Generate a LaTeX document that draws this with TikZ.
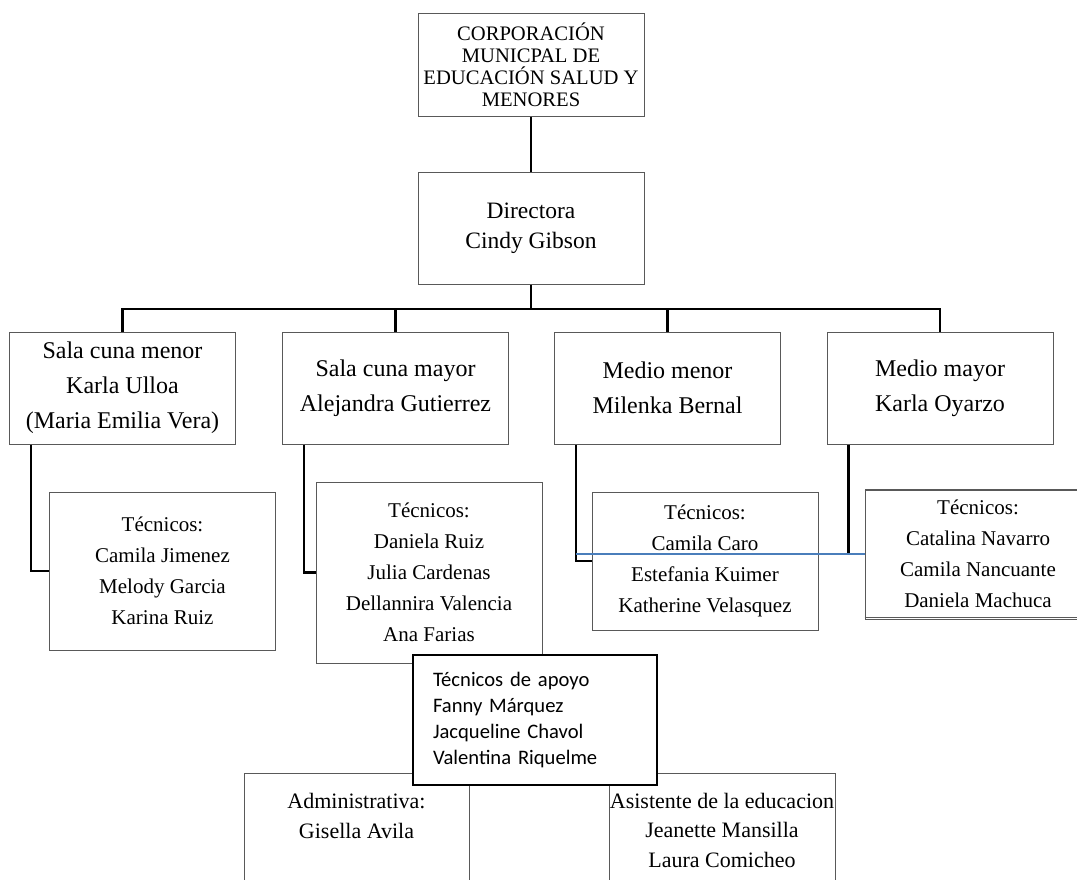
\documentclass[tikz,border=0pt]{standalone}
\usepackage{fontspec}
\setmainfont{Liberation Serif}
\newfontfamily\apoyofont{Carlito}
\usetikzlibrary{positioning}
\definecolor{lineablue}{RGB}{74,126,187}
\begin{document}
\begin{tikzpicture}[x=1pt, y=-1pt,
  box/.style={draw=black!65, line width=1pt, fill=white, inner sep=0pt, align=center, minimum width=226pt},
  level/.style={box, minimum height=112pt, font=\fontsize{24}{35}\selectfont},
  tecbox/.style={box, font=\fontsize{21}{31}\selectfont},
  bottxt/.style={inner sep=0pt, align=center, font=\fontsize{22}{29.5}\selectfont},
  link/.style={line width=2.5pt, line join=miter},
  blueline/.style={lineablue, line width=2pt}]
 \useasboundingbox (0,0) rectangle (1077,879);
 \clip (0,0) rectangle (1077,879);
 \node[box, minimum height=103pt, font=\fontsize{20.6}{22}\selectfont] (corp) at (531,64.5)
   {CORPORACIÓN\\MUNICPAL DE\\EDUCACIÓN SALUD Y\\MENORES};
 \node[box, minimum height=112pt, font=\fontsize{23.5}{30}\selectfont] (dir) at (531,228)
   {Directora\\Cindy Gibson};
 \node[level] (scm) at (122.5,388) {Sala cuna menor\\Karla Ulloa\\(Maria Emilia Vera)};
 \node[level] (scM) at (395.5,388) {Sala cuna mayor\\Alejandra Gutierrez};
 \node[level] (mme) at (667.5,388) {Medio menor\\Milenka Bernal};
 \node[level] (mma) at (940,388) {Medio mayor\\Karla Oyarzo};
 \node[tecbox, minimum height=158pt] (t1) at (162.5,571)
   {Técnicos:\\Camila Jimenez\\Melody Garcia\\Karina Ruiz};
 \node[tecbox, minimum height=181pt] (t2) at (429,572.5)
   {Técnicos:\\Daniela Ruiz\\Julia Cardenas\\Dellannira Valencia\\Ana Farias};
 \node[tecbox, minimum height=138pt] (t3) at (705,561)
   {Técnicos:\\Camila Caro\\Estefania Kuimer\\Katherine Velasquez};
 \node[tecbox, minimum height=130pt] (t4) at (978,554)
   {Técnicos:\\Catalina Navarro\\Camila Nancuante\\Daniela Machuca};
 \draw[box] ([yshift=-1.8pt]t4.north west) -- ([yshift=-1.8pt]t4.north east);
 \draw[box] ([yshift=2pt]t4.south west) -- ([yshift=2pt]t4.south east);
 \node[box, minimum width=225pt, minimum height=140pt, anchor=north] (adm) at (356.5,773) {};
 \node[box, minimum height=140pt, anchor=north] (asis) at (722,773) {};
 \node[bottxt] (admtxt) at (356.5,816) {Administrativa:\\Gisella Avila};
 \node[bottxt] (asistxt) at (722,830) {Asistente de la educacion\\Jeanette Mansilla\\Laura Comicheo};
 \coordinate (bus) at (531,309);
 \draw[link] (corp) -- (dir);
 \draw[link] (dir.south) -- (bus);
 \draw[link] (scm.north) -- (scm.north |- bus) -- (mma.north |- bus) -- (mma.north);
 \foreach \n in {scM,mme}
 {
     \draw[link] (\n.north |- bus) -- (\n.north);
 }
 \foreach \a/\b in {scm/t1,scM/t2,mme/t3,mma/t4}
 {
     \draw[link] ([xshift=22pt]\a.south west) |- (\b.west);
 }
 \draw[blueline] ([xshift=22pt]mme.south west |- t4.west) -- (t4.west);
 \node[draw=black, line width=1.6pt, fill=white, inner xsep=20pt, inner ysep=0pt,
   minimum height=130pt, text width=204pt, align=left,
   font=\apoyofont\fontsize{20.6}{26}\selectfont] (apoyo) at (535,720)
   {Técnicos de apoyo\\Fanny Márquez\\Jacqueline Chavol\\Valentina Riquelme};
\end{tikzpicture}
\end{document}
